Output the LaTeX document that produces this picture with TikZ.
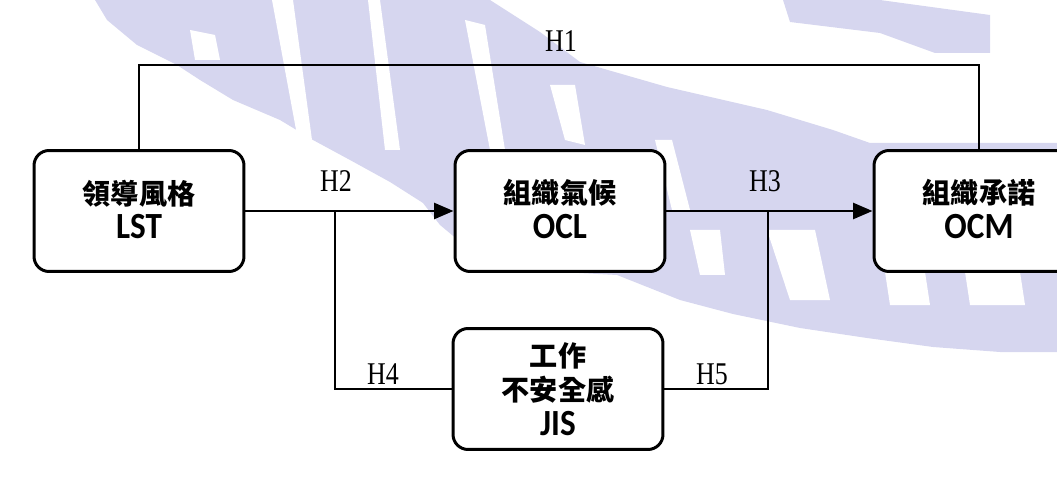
\documentclass[tikz,border=0pt]{standalone}
\usepackage{fontspec}
\setmainfont{Liberation Serif}
\newfontfamily\cjk{Noto Sans CJK TC}
\newfontfamily\lat{Carlito}[FakeStretch=0.9]
\newfontfamily\hfont{Liberation Serif}[FakeStretch=0.82]
\usetikzlibrary{arrows.meta}
\definecolor{wm}{RGB}{214,214,239}
\newcommand{\latline}[1]{{\lat\bfseries\fontsize{21}{19.5}\selectfont #1}}
\newcommand{\lowpad}{\rule[-2.3pt]{0pt}{0pt}}
\tikzset{
 box/.style={draw, line width=1.7pt, rounded corners=0.3cm, fill=white, minimum width=4.2cm, minimum height=2.42cm, align=center, font=\cjk\bfseries\fontsize{16}{19.5}\selectfont, inner sep=0pt},
 link/.style={line width=1.5pt},
 arr/.style={link, -{Triangle[length=11pt,width=9pt]}},
 hlab/.style={font=\hfont\fontsize{18}{20}\selectfont, inner sep=0pt},
 wmfill/.style={fill=wm, draw=none},
 wmgap/.style={fill=white, draw=none},
}
\begin{document}
\begin{tikzpicture}[x=0.02cm,y=-0.02cm]
\useasboundingbox (0,0) rectangle (1057,489);
% watermark
\fill[wmfill] (95,0) -- (490,0) -- (540,32) -- (580,62) -- (667,87) -- (767,110) -- (833,130) -- (870,143) -- (1057,143) -- (1057,352) -- (1000,352) -- (933,347) -- (867,338) -- (800,328) -- (733,314) -- (680,300) -- (617,275) -- (560,272) -- (470,250) -- (440,225) -- (423,203) -- (390,182) -- (350,160) -- (313,140) -- (280,120) -- (233,100) -- (200,80) -- (177,65) -- (137,45) -- (107,20) -- cycle;
\fill[wmfill] (783,0) -- (880,0) -- (990,15) -- (990,53) -- (935,53) -- (880,33) -- (790,22) -- cycle;
\fill[wmgap] (272,0) -- (293,0) -- (312,140) -- (297,135) -- cycle;
\fill[wmgap] (368,0) -- (380,0) -- (400,150) -- (385,150) -- cycle;
\fill[wmgap] (465,20) -- (485,25) -- (505,150) -- (490,150) -- cycle;
\fill[wmgap] (550,85) -- (575,85) -- (585,145) -- (565,140) -- cycle;
\fill[wmgap] (655,140) -- (672,140) -- (690,210) -- (672,210) -- cycle;
\fill[wmgap] (690,230) -- (720,230) -- (725,275) -- (700,275) -- cycle;
\fill[wmgap] (767,230) -- (815,230) -- (830,300) -- (790,300) -- cycle;
\fill[wmgap] (885,272) -- (925,272) -- (930,305) -- (890,305) -- cycle;
\fill[wmgap] (965,272) -- (1020,272) -- (1025,305) -- (970,305) -- cycle;
\fill[wmgap] (190,30) -- (215,35) -- (220,60) -- (195,60) -- cycle;
% nodes
\node[box] (LST) at (139,211) {領導風格\\\latline{LST}\lowpad};
\node[box] (OCL) at (560,211) {組織氣候\\\latline{OCL}\lowpad};
\node[box] (OCM) at (979,211) {組織承諾\\\latline{OCM}\lowpad};
\node[box] (JIS) at (558,389) {工作\\不安全感\\\latline{JIS}};
\coordinate (top) at (560,65);
\coordinate (b2) at (335,211);
\coordinate (b3) at (768,211);
% connectors
\draw[link] (LST.north) |- (top) -| (OCM.north);
\draw[arr] (LST.east) -- (OCL.west);
\draw[arr] (OCL.east) -- (OCM.west);
\draw[link] (b2) |- (JIS.west);
\draw[link] (b3) |- (JIS.east);
% labels
\node[hlab] (h1) at (561,41) {H1};
\node[hlab] (h2) at (336,181) {H2};
\node[hlab] (h3) at (765,181) {H3};
\node[hlab] (h4) at (383,374) {H4};
\node[hlab] (h5) at (712,374) {H5};
\end{tikzpicture}
\end{document}
